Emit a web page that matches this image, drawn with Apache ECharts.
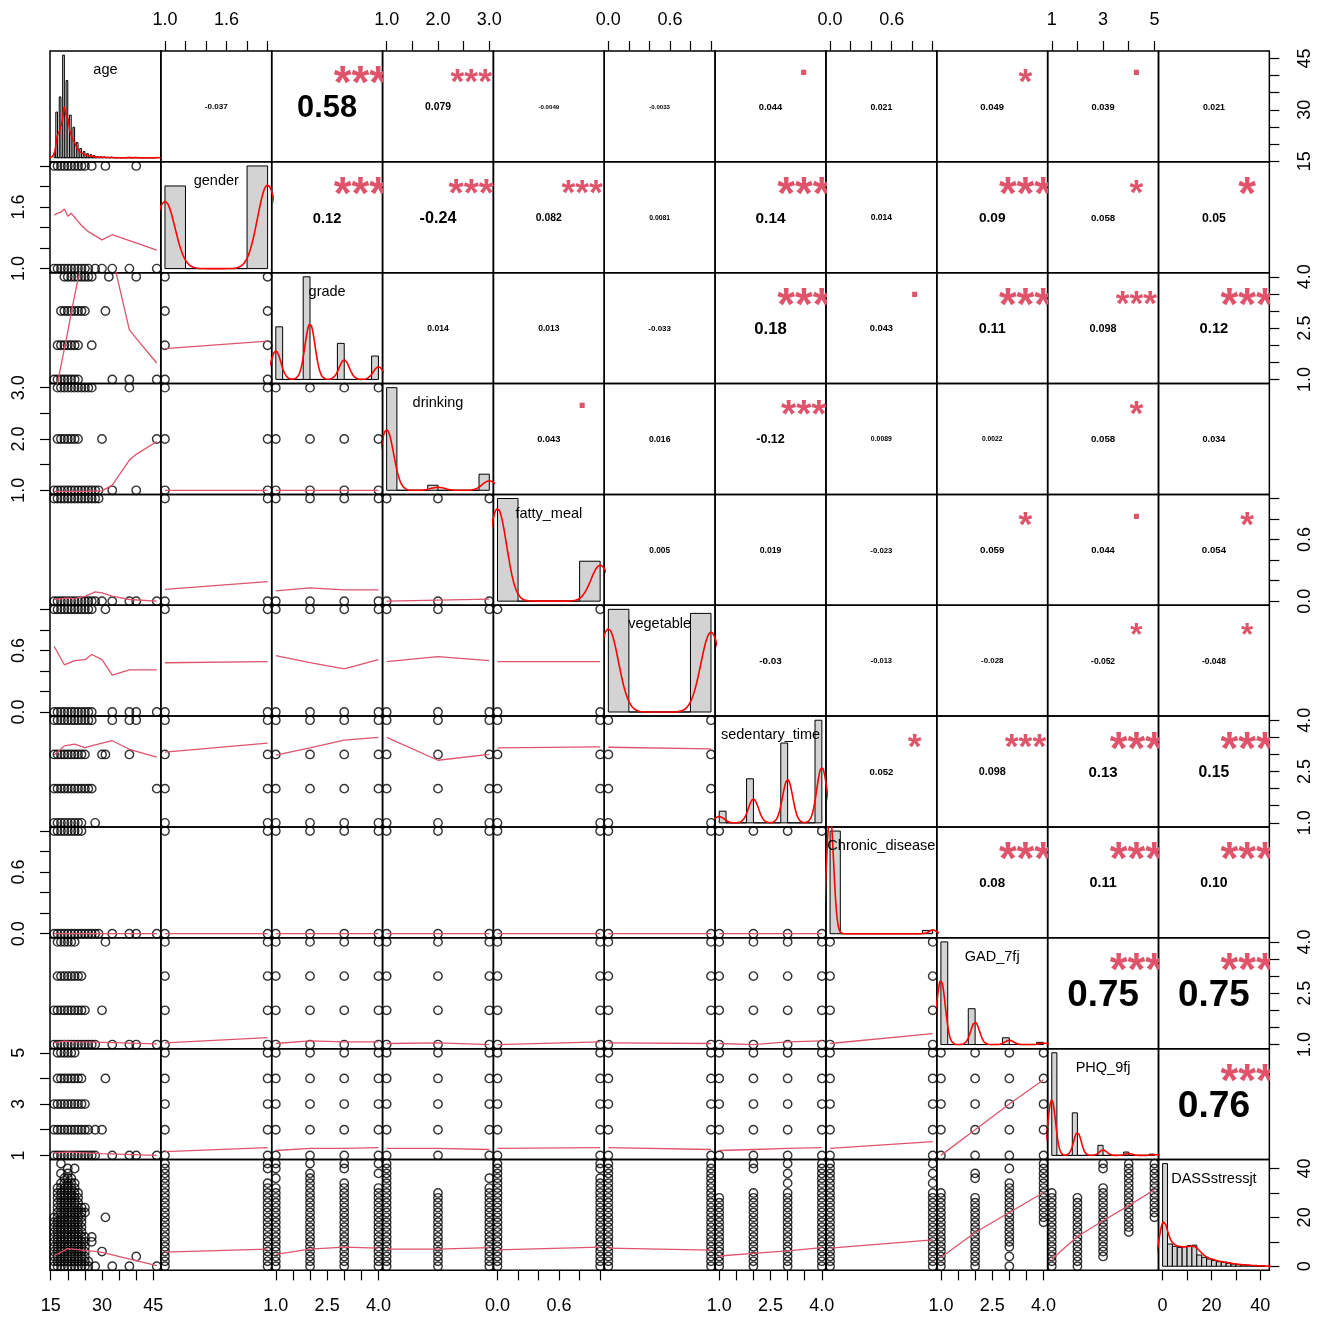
<!DOCTYPE html>
<html>
<head>
<meta charset="utf-8">
<script src="https://cdn.jsdelivr.net/npm/echarts@6/dist/echarts.min.js"></script>
<style>
html,body{margin:0;padding:0;background:#fff;}
#chart{width:1324px;height:1319px;}
</style>
</head>
<body>
<div id="chart"></div>
<script>
// ---------- variables and axis scales ----------
const varNames = ['age','gender','grade','drinking','fatty_meal','vegetable','sedentary_time','Chronic_disease','GAD_7fj','PHQ_9fj','DASSstressjt'];
const varMin = [16, 1, 1, 1, 0, 0, 1, 0, 1, 1, 0];
const varMax = [46, 2, 4, 3, 1, 1, 4, 1, 4, 5, 42];
const tickValues = [
  [15,20,25,30,35,40,45],
  [1,1.2,1.4,1.6,1.8,2],
  [1,1.5,2,2.5,3,3.5,4],
  [1,1.5,2,2.5,3],
  [0,0.2,0.4,0.6,0.8,1],
  [0,0.2,0.4,0.6,0.8,1],
  [1,1.5,2,2.5,3,3.5,4],
  [0,0.2,0.4,0.6,0.8,1],
  [1,1.5,2,2.5,3,3.5,4],
  [1,2,3,4,5],
  [0,10,20,30,40]
];
const tickLabels = [[15,30,45],[1,1.6],[1,2.5,4],[1,2,3],[0,0.6],[0,0.6],[1,2.5,4],[0,0.6],[1,2.5,4],[1,3,5],[0,20,40]];
const labelDigits = [0,1,1,1,1,1,1,1,1,0,0];
// histogram bin widths
const binWidth = [0.5, 0.2, 0.2, 0.2, 0.2, 0.2, 0.2, 0.1, 0.2, 0.2, 2];

// ---------- frequency tables ----------
const ageValues = [16,17,18,19,20,21,22,23,24,25,26,27,28,29,30,31,32,33,35,38,40,46];
const ageCounts = [25,223,297,501,377,208,149,74,45,30,20,15,10,6,5,4,2,3,1,2,2,1];
const catLevels = [null,[1,2],[1,2,3,4],[1,2,3],[0,1],[0,1],[1,2,3,4],[0,1],[1,2,3,4],[1,2,3,4,5],null];
const catCounts = [null,[892,1108],[490,956,336,218],[1658,82,260],[1440,560],[1020,980],[98,370,670,862],[1938,62],[1392,486,92,30],[1284,532,126,42,16],null];
const dassValues = [0,2,4,6,8,10,12,14,16,18,20,22,24,26,28,30,32,34,36,38,40,42];
const dassCounts = [560,180,160,144,136,141,148,152,81,64,52,41,33,29,22,16,12,10,7,4,4,2];

// ---------- correlations (upper panels) ----------
const corrText = [
  ['-0.037','0.58','0.079','-0.0049','-0.0033','0.044','0.021','0.049','0.039','0.021'],
  ['0.12','-0.24','0.082','0.0081','0.14','0.014','0.09','0.058','0.05'],
  ['0.014','0.013','-0.033','0.18','0.043','0.11','0.098','0.12'],
  ['0.043','0.016','-0.12','0.0089','0.0022','0.058','0.034'],
  ['0.005','0.019','-0.023','0.059','0.044','0.054'],
  ['-0.03','-0.013','-0.028','-0.052','-0.048'],
  ['0.052','0.098','0.13','0.15'],
  ['0.08','0.11','0.10'],
  ['0.75','0.75'],
  ['0.76']
];
const corrStars = [
  ['','***','***','','','.','','*','.',''],
  ['***','***','***','','***','','***','*','*'],
  ['','','','***','.','***','***','***'],
  ['.','','***','','','*',''],
  ['','','','*','.','*'],
  ['','','','*','*'],
  ['*','***','***','***'],
  ['***','***','***'],
  ['***','***'],
  ['***']
];

// ---------- ages seen at each level of a row variable: [[first,last] run, isolated ages] ----------
const ageByGender   = [[[16,26],[28,30,33,38,46]], [[16,25],[27,31,40]]];
const ageByGrade    = [[[16,23],[33,38,46]], [[17,23],[27]], [[18,25],[31]], [[19,27],[32,40]]];
const ageByDrinking = [[[16,29],[33,40]], [[17,23],[30,46]], [[17,27],[38]]];
const ageByFatty    = [[[16,28],[30,33,38,40,46]], [[16,29],[]]];
const ageByVeg      = [[[16,27],[33,38,40,46]], [[16,27],[31]]];
const ageBySed      = [[[16,24],[28]], [[16,27],[46]], [[16,25],[30,31,38]], [[16,27],[33,38,40]]];
const ageByChronic  = [[[16,29],[33,38,40,46]], [[16,24],[]]];
const ageByGAD      = [[[16,28],[33,38,40,46]], [[16,25],[30]], [[17,24],[]], [[17,22],[31]]];
const ageByPHQ      = [[[16,28],[33,38,40,46]], [[16,26],[28,30]], [[16,25],[]], [[17,24],[31]], [[17,22],[]]];

// ---------- stress scores seen at each level of a column variable ----------
const dassByGender   = [[[0,42],[]], [[0,34],[40,42]]];
const dassByGrade    = [[[0,32],[36,40,42]], [[0,38],[42]], [[0,34],[40,42]], [[0,32],[38,42]]];
const dassByDrinking = [[[0,42],[]], [[0,30],[]], [[0,32],[36]]];
const dassByFatty    = [[[0,42],[]], [[0,36],[40,42]]];
const dassByVeg      = [[[0,42],[]], [[0,42],[]]];
const dassBySed      = [[[0,28],[]], [[0,30],[40,42]], [[0,30],[34,38,42]], [[0,42],[]]];
const dassByChronic  = [[[0,42],[]], [[0,30],[34,38,42]]];
const dassByGAD      = [[[0,30],[]], [[0,28],[36,38]], [[8,34],[0,4,40]], [[18,42],[]]];
const dassByPHQ      = [[[0,30],[]], [[0,28],[]], [[4,32],[40,42]], [[14,42],[]], [[20,42],[]]];

// stress score vs age: [score, first age, last age, isolated ages...]
const ageDassRuns = [
  [0,16,26,28,33,38,46],[2,16,26],[4,16,25,40],[6,16,25,30],[8,16,25],[10,16,25,27],
  [12,16,25,27],[14,16,24],[16,16,24],[18,16,24],[20,16,24,31],[22,17,25],[24,17,25],
  [26,17,23],[28,17,23],[30,17,23],[32,17,22],[34,18,22],[36,19,21],[38,18,18,20],
  [40,20,20,22],[42,18,18]
];

// ---------- smoothed (lowess) lines of the lower panels: [row, col, vertices] ----------
const smoothLines = [
  [1,0,[[16,1.52],[17,1.54],[18,1.55],[19,1.58],[20,1.51],[21,1.54],[22,1.5],[23,1.46],[24,1.42],[26,1.36],[30,1.28],[33,1.33],[46,1.18]]],
  [2,0,[[16,0.45],[17,0.9],[18,1.4],[19,1.9],[20,2.4],[21,2.95],[22,3.45],[23,3.95],[25,4.7],[28,5.2],[31,5.0],[33,4.6],[38,2.45],[40,2.2],[46,1.48]]],
  [2,1,[[1,1.9],[2,2.12]]],
  [3,0,[[16,0.98],[20,0.98],[25,0.98],[30,0.99],[33,1.1],[38,1.59],[40,1.7],[46,1.95]]],
  [3,1,[[1,1.0],[2,1.0]]],
  [3,2,[[1,1.0],[2,1.0],[3,1.0],[4,1.0]]],
  [4,0,[[16,0.016],[20,0.03],[22,0.025],[25,0.047],[28,0.09],[30,0.08],[33,0.05],[38,0.016],[46,0]]],
  [4,1,[[1,0.115],[2,0.19]]],
  [4,2,[[1,0.1],[2,0.13],[3,0.11],[4,0.11]]],
  [4,3,[[1,0.0],[2,0.01],[3,0.02]]],
  [5,0,[[16,0.64],[19,0.46],[22,0.5],[25,0.51],[27,0.56],[30,0.51],[33,0.36],[38,0.41],[46,0.41]]],
  [5,1,[[1,0.48],[2,0.49]]],
  [5,2,[[1,0.55],[2,0.48],[3,0.42],[4,0.51]]],
  [5,3,[[1,0.49],[2,0.54],[3,0.5]]],
  [5,4,[[0,0.49],[1,0.49]]],
  [6,0,[[16,2.98],[19,3.25],[22,3.3],[25,3.2],[28,3.28],[33,3.4],[38,3.15],[46,2.92]]],
  [6,1,[[1,3.07],[2,3.33]]],
  [6,2,[[1,2.98],[2,3.19],[3,3.42],[4,3.5]]],
  [6,3,[[1,3.5],[2,2.83],[3,3.0]]],
  [6,4,[[0,3.19],[1,3.22]]],
  [6,5,[[0,3.21],[1,3.16]]],
  [7,0,[[16,0],[46,0]]],
  [7,1,[[1,0],[2,0]]],
  [7,2,[[1,0],[2,0],[3,0],[4,0]]],
  [7,3,[[1,0],[2,0],[3,0]]],
  [7,4,[[0,0],[1,0]]],
  [7,5,[[0,0],[1,0]]],
  [7,6,[[1,0],[2,0],[3,0],[4,0]]],
  [8,0,[[16,1.05],[19,1.1],[22,1.08],[28,1.07],[46,1.02]]],
  [8,1,[[1,1.05],[2,1.2]]],
  [8,2,[[1,1.03],[2,1.11],[3,1.08],[4,1.08]]],
  [8,3,[[1,1.03],[2,1.05],[3,1.0]]],
  [8,4,[[0,1.0],[1,1.08]]],
  [8,5,[[0,1.05],[1,1.03]]],
  [8,6,[[1,1.03],[2,1.0],[3,1.08],[4,1.11]]],
  [8,7,[[0,1.03],[1,1.32]]],
  [9,0,[[16,1.1],[20,1.13],[25,1.1],[30,1.07],[46,1.0]]],
  [9,1,[[1,1.15],[2,1.3]]],
  [9,2,[[1,1.19],[2,1.27],[3,1.27],[4,1.3]]],
  [9,3,[[1,1.27],[2,1.27],[3,1.23]]],
  [9,4,[[0,1.27],[1,1.3]]],
  [9,5,[[0,1.3],[1,1.23]]],
  [9,6,[[1,1.19],[2,1.23],[3,1.27],[4,1.3]]],
  [9,7,[[0,1.27],[1,1.54]]],
  [9,8,[[1,1.0],[2,2.0],[3,3.0],[4,3.95]]],
  [10,0,[[16,4.3],[20,7.2],[25,6.5],[28,6.1],[30,5.7],[46,0.25]]],
  [10,1,[[1,5.8],[2,7.0]]],
  [10,2,[[1,4.9],[2,7.0],[3,7.8],[4,7.4]]],
  [10,3,[[1,7.0],[2,7.0],[3,7.6]]],
  [10,4,[[0,6.7],[1,7.8]]],
  [10,5,[[0,7.4],[1,6.6]]],
  [10,6,[[1,4.2],[2,5.3],[3,6.3],[4,7.6]]],
  [10,7,[[0,7.4],[1,10.8]]],
  [10,8,[[1,3.6],[2,13.8],[3,22.0],[4,30.2]]],
  [10,9,[[1,2.9],[2,12.2],[3,18.6],[4,24.8],[5,31.3]]]
];

// ---------- layout and style ----------
const FONT = '"Liberation Sans", Arial, sans-serif';
const LEFT0 = 50, TOP0 = 51, CELL = 110.85;
const NV = varNames.length;
const SMOOTH_COLOR = '#DF536B';
const STAR_COLOR = '#DF536B';
const DENSITY_COLOR = '#FF0000';
const HIST_FILL = '#D3D3D3';

const ageByLevel = [null, ageByGender, ageByGrade, ageByDrinking, ageByFatty, ageByVeg, ageBySed, ageByChronic, ageByGAD, ageByPHQ];
const dassByLevel = [null, dassByGender, dassByGrade, dassByDrinking, dassByFatty, dassByVeg, dassBySed, dassByChronic, dassByGAD, dassByPHQ];

function freqOf(k) {
  if (k === 0) return {v: ageValues, n: ageCounts};
  if (k === NV - 1) return {v: dassValues, n: dassCounts};
  return {v: catLevels[k], n: catCounts[k]};
}
function padRange(k) {
  const r = varMax[k] - varMin[k];
  return [varMin[k] - 0.04 * r, varMax[k] + 0.04 * r];
}
function expand(vals, counts) {
  const out = [];
  vals.forEach((v, i) => { for (let j = 0; j < counts[i]; j++) out.push(v); });
  return out;
}
function quantile7(s, p) {
  const h = (s.length - 1) * p, lo = Math.floor(h), hi = Math.min(lo + 1, s.length - 1);
  return s[lo] + (h - lo) * (s[hi] - s[lo]);
}
// rule-of-thumb bandwidth (nrd0)
function bandwidth(vals, counts) {
  const x = expand(vals, counts).sort((a, b) => a - b);
  const n = x.length;
  const mean = x.reduce((s, v) => s + v, 0) / n;
  const sd = Math.sqrt(x.reduce((s, v) => s + (v - mean) * (v - mean), 0) / (n - 1));
  const iqr = quantile7(x, 0.75) - quantile7(x, 0.25);
  let lo = Math.min(sd, iqr / 1.34);
  if (!lo) lo = sd || Math.abs(x[0]) || 1;
  return 0.9 * lo * Math.pow(n, -0.2);
}
// gaussian kernel density on 512 points
function densityCurve(vals, counts) {
  const n = counts.reduce((a, b) => a + b, 0);
  const bw = bandwidth(vals, counts);
  const from = Math.min(...vals) - 3 * bw, to = Math.max(...vals) + 3 * bw;
  const pts = [];
  for (let i = 0; i < 512; i++) {
    const t = from + (to - from) * i / 511;
    let d = 0;
    vals.forEach((v, j) => { const z = (t - v) / bw; d += counts[j] * Math.exp(-0.5 * z * z); });
    pts.push([t, d / (n * bw * Math.sqrt(2 * Math.PI))]);
  }
  return pts;
}
// right-closed histogram, lowest break included
function histBins(k) {
  const f = freqOf(k);
  const n = f.n.reduce((a, b) => a + b, 0);
  const w = binWidth[k], lo = varMin[k];
  const nb = Math.round((varMax[k] - lo) / w);
  const bins = [];
  for (let b = 0; b < nb; b++) {
    const a = lo + b * w, e = a + w;
    let c = 0;
    f.v.forEach((v, j) => {
      if ((v > a + 1e-9 || (b === 0 && v >= a - 1e-9)) && v <= e + 1e-9) c += f.n[j];
    });
    bins.push([a, e, c / (n * w)]);
  }
  return bins;
}
function runValues(run, step) {
  const out = [];
  for (let v = run[0]; v <= run[1] + 1e-9; v += step) out.push(v);
  return out;
}
function levelValues(spec, step) { return runValues(spec[0], step).concat(spec[1]); }

function scatterPoints(r, c) {
  const pts = [];
  if (r === NV - 1 && c === 0) {
    ageDassRuns.forEach(row => {
      const d = row[0];
      runValues([row[1], row[2]], 1).concat(row.slice(3)).forEach(a => pts.push([a, d]));
    });
  } else if (c === 0) {
    ageByLevel[r].forEach((spec, li) => levelValues(spec, 1).forEach(a => pts.push([a, catLevels[r][li]])));
  } else if (r === NV - 1) {
    dassByLevel[c].forEach((spec, li) => levelValues(spec, 2).forEach(d => pts.push([catLevels[c][li], d])));
  } else {
    catLevels[c].forEach(x => catLevels[r].forEach(y => pts.push([x, y])));
  }
  return pts;
}

function emWidth(txt) {
  let w = 0;
  for (const ch of txt) w += (ch === '.') ? 0.278 : (ch === '-') ? 0.333 : 0.556;
  return w;
}

function outerAxis(k, pos) {
  const vertical = (pos === 'left' || pos === 'right');
  const far = (pos === 'bottom' || pos === 'right');
  return {
    show: true,
    position: pos,
    axisLine: {show: false, onZero: false},
    splitLine: {show: false},
    axisTick: {show: true, inside: false, length: 10, lineStyle: {color: '#000', width: 1.2}, customValues: tickValues[k]},
    axisLabel: {
      show: true, customValues: tickLabels[k],
      formatter: v => Number(v).toFixed(labelDigits[k]),
      fontSize: 18, fontFamily: FONT, color: '#000', margin: far ? 27 : 22,
      rotate: vertical ? 90 : 0, hideOverlap: false
    }
  };
}

function textSeries(gi, mid, items) {
  return {
    type: 'custom', xAxisIndex: gi, yAxisIndex: gi, clip: true, silent: true, z: 6,
    data: [mid],
    renderItem: (params) => {
      const cs = params.coordSys;
      return {
        type: 'group',
        children: items.map(it => ({
          type: 'text',
          x: cs.x + it.fx * cs.width,
          y: cs.y + (1 - it.fy) * cs.height + it.shift * it.size,
          style: {
            text: it.text, fontSize: it.size, fontWeight: it.bold ? 'bold' : 'normal',
            fontFamily: FONT, fill: it.color, align: 'center', verticalAlign: 'middle'
          }
        }))
      };
    }
  };
}

const option = {animation: false, backgroundColor: '#ffffff', grid: [], xAxis: [], yAxis: [], series: []};

const diagBins = varNames.map((_, k) => histBins(k));
const diagMax = diagBins.map(b => Math.max(...b.map(x => x[2])));

for (let r = 0; r < NV; r++) {
  for (let c = 0; c < NV; c++) {
    const gi = r * NV + c;
    option.grid.push({
      left: LEFT0 + c * CELL, top: TOP0 + r * CELL, width: CELL, height: CELL,
      show: true, borderColor: '#000', borderWidth: 1.5, backgroundColor: 'transparent'
    });
    const xr = padRange(c);
    const yr = (r === c) ? [-0.04 * diagMax[r], 1.04 * diagMax[r]] : padRange(r);
    const xa = {gridIndex: gi, type: 'value', min: xr[0], max: xr[1], show: false,
                axisLine: {onZero: false}, splitLine: {show: false}};
    if (r === 0 && c % 2 === 1) Object.assign(xa, outerAxis(c, 'top'));
    if (r === NV - 1 && c % 2 === 0) Object.assign(xa, outerAxis(c, 'bottom'));
    option.xAxis.push(xa);
    const ya = {gridIndex: gi, type: 'value', min: yr[0], max: yr[1], show: false,
                axisLine: {onZero: false}, splitLine: {show: false}};
    if (r !== c) {
      if (c === 0 && r % 2 === 1) Object.assign(ya, outerAxis(r, 'left'));
      if (c === NV - 1 && r % 2 === 0) Object.assign(ya, outerAxis(r, 'right'));
    }
    option.yAxis.push(ya);

    const mid = [(xr[0] + xr[1]) / 2, (yr[0] + yr[1]) / 2];

    if (r === c) {
      // histogram
      option.series.push({
        type: 'custom', xAxisIndex: gi, yAxisIndex: gi, clip: true, silent: true, z: 2,
        data: diagBins[r],
        renderItem: (params, api) => {
          const a = api.coord([api.value(0), 0]);
          const b = api.coord([api.value(1), api.value(2)]);
          return {type: 'rect', shape: {x: a[0], y: b[1], width: b[0] - a[0], height: a[1] - b[1]},
                  style: {fill: HIST_FILL, stroke: '#000', lineWidth: 1}};
        }
      });
      // density
      const f = freqOf(r);
      option.series.push({
        type: 'line', xAxisIndex: gi, yAxisIndex: gi, data: densityCurve(f.v, f.n),
        showSymbol: false, symbol: 'none', clip: true, silent: true, z: 3,
        lineStyle: {color: DENSITY_COLOR, width: 1.6}
      });
      option.series.push(textSeries(gi, mid, [{fx: 0.5, fy: 0.8333, text: varNames[r], size: 14.5, bold: false, color: '#000', shift: 0.05}]));
    } else if (r > c) {
      option.series.push({
        type: 'scatter', xAxisIndex: gi, yAxisIndex: gi, data: scatterPoints(r, c),
        symbol: 'circle', symbolSize: 8.4, silent: true, z: 3,
        itemStyle: {color: 'rgba(0,0,0,0)', borderColor: '#000', borderWidth: 1.4}
      });
    } else {
      const txt = corrText[r][c - r - 1];
      const stars = corrStars[r][c - r - 1];
      const rv = Math.abs(parseFloat(txt));
      const full = 0.8 * CELL / emWidth(txt);
      const items = [{fx: 0.5, fy: 0.5, text: txt, size: full * (rv + 0.3) / 1.3, bold: true, color: '#000', shift: 0.08}];
      if (stars) items.push({fx: 0.8, fy: 0.8, text: stars, size: full, bold: true, color: STAR_COLOR, shift: stars === '.' ? -0.22 : 0.28});
      option.series.push(textSeries(gi, mid, items));
    }
  }
}

// smoothed lines
smoothLines.forEach(([r, c, pts]) => {
  const gi = r * NV + c;
  option.series.push({
    type: 'line', xAxisIndex: gi, yAxisIndex: gi, data: pts,
    showSymbol: false, symbol: 'none', clip: true, silent: true, z: 4,
    lineStyle: {color: SMOOTH_COLOR, width: 1.3}
  });
});

// stress-score scale on the right of the last diagonal panel
const lastGrid = NV * NV - 1;
const dr = padRange(NV - 1);
option.yAxis.push(Object.assign({gridIndex: lastGrid, type: 'value', min: dr[0], max: dr[1]}, outerAxis(NV - 1, 'right')));

const chart = echarts.init(document.getElementById('chart'), null, {renderer: 'canvas'});
chart.setOption(option);
</script>
</body>
</html>
